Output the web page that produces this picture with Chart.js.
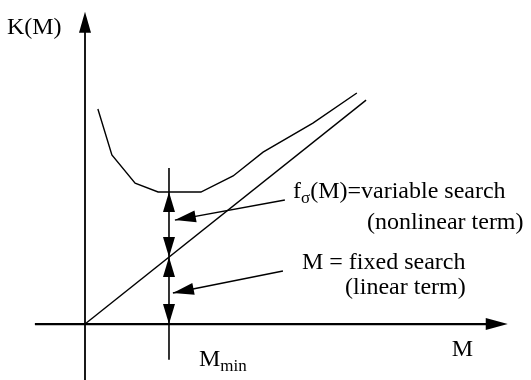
<!DOCTYPE html>
<html>
<head>
<meta charset="utf-8">
<script src="https://cdn.jsdelivr.net/npm/chart.js@4/dist/chart.umd.min.js"></script>
<style>
  body { margin: 0; background: #fff; }
  #wrap { width: 531px; height: 380px; }
</style>
</head>
<body>
<div id="wrap"><canvas id="chart"></canvas></div>
<script>
// cost curve K(M) (fixed + variable search)
const curveM = [0.46, 0.96, 1.79, 2.61, 4.14, 5.29, 6.36, 8.14, 9.71];
const curveK = [9.64, 7.58, 6.32, 5.92, 5.92, 6.64, 7.71, 9.01, 10.36];

// linear term K = M
const lineM = [0, 10.04];
const lineK = [0, 10.04];

const mMin = 3.0;
const kAtMin = 5.92;   // curve value at M_min
const linAtMin = 3.0;  // line value at M_min

// axis extents (data units)
const xAxisFrom = -1.79, xAxisTo = 15.1;
const yAxisFrom = -2.6, yAxisTo = 14.0;
const vLineTop = 7.0, vLineBottom = -1.6;

// pointer arrows [tailM, tailK, tipM, tipK]
const pointer1 = [7.14, 5.56, 3.21, 4.66];
const pointer2 = [7.07, 2.38, 3.14, 1.39];

const FONT = '"Liberation Serif", "Times New Roman", serif';

function arrowHead(ctx, tx, ty, fx, fy, len, half) {
  // tip at (tx,ty), pointing away from (fx,fy)
  const a = Math.atan2(ty - fy, tx - fx);
  ctx.beginPath();
  ctx.moveTo(tx, ty);
  ctx.lineTo(tx - len * Math.cos(a) + half * Math.sin(a), ty - len * Math.sin(a) - half * Math.cos(a));
  ctx.lineTo(tx - len * Math.cos(a) - half * Math.sin(a), ty - len * Math.sin(a) + half * Math.cos(a));
  ctx.closePath();
  ctx.fill();
}

function textSub(ctx, x, y, main, sub, rest, size) {
  ctx.font = size + 'px ' + FONT;
  ctx.fillText(main, x, y);
  let w = ctx.measureText(main).width;
  ctx.font = Math.round(size * 0.7) + 'px ' + FONT;
  ctx.fillText(sub, x + w, y + size * 0.28);
  w += ctx.measureText(sub).width;
  if (rest) {
    ctx.font = size + 'px ' + FONT;
    ctx.fillText(rest, x + w, y);
  }
}

const diagram = {
  id: 'diagram',
  afterDatasetsDraw(chart) {
    const ctx = chart.ctx;
    const xs = chart.scales.x, ys = chart.scales.y;
    const px = v => xs.getPixelForValue(v);
    const py = v => ys.getPixelForValue(v);
    ctx.save();
    ctx.strokeStyle = '#000';
    ctx.fillStyle = '#000';

    // x axis
    ctx.lineWidth = 2.2;
    ctx.beginPath();
    ctx.moveTo(px(xAxisFrom), py(0));
    ctx.lineTo(px(xAxisTo) - 10, py(0));
    ctx.stroke();
    arrowHead(ctx, px(xAxisTo), py(0), px(0), py(0), 22, 6);

    // y axis
    ctx.lineWidth = 1.8;
    ctx.beginPath();
    ctx.moveTo(px(0), py(yAxisFrom));
    ctx.lineTo(px(0), py(yAxisTo) + 10);
    ctx.stroke();
    arrowHead(ctx, px(0), py(yAxisTo), px(0), py(0), 21, 6);

    // M_min vertical line with double arrows
    ctx.lineWidth = 1.6;
    ctx.beginPath();
    ctx.moveTo(px(mMin), py(vLineTop));
    ctx.lineTo(px(mMin), py(vLineBottom));
    ctx.stroke();
    const x0 = px(mMin);
    arrowHead(ctx, x0, py(kAtMin), x0, py(linAtMin), 20, 6);
    arrowHead(ctx, x0, py(linAtMin), x0, py(kAtMin), 20, 6);
    arrowHead(ctx, x0, py(linAtMin), x0, py(0), 20, 6);
    arrowHead(ctx, x0, py(0), x0, py(linAtMin), 20, 6);

    // pointer arrows
    ctx.lineWidth = 1.4;
    [pointer1, pointer2].forEach(p => {
      ctx.beginPath();
      ctx.moveTo(px(p[0]), py(p[1]));
      ctx.lineTo(px(p[2]), py(p[3]));
      ctx.stroke();
      arrowHead(ctx, px(p[2]), py(p[3]), px(p[0]), py(p[1]), 21, 6);
    });

    // labels
    const size = 24;
    ctx.textBaseline = 'middle';
    ctx.textAlign = 'left';
    ctx.font = size + 'px ' + FONT;
    ctx.fillText('K(M)', px(-2.79), py(13.3));
    textSub(ctx, px(7.43), py(5.92), 'f', '\u03c3', '(M)=variable search', size);
    ctx.font = size + 'px ' + FONT;
    ctx.fillText('(nonlinear term)', px(10.07), py(4.53));
    ctx.fillText('M = fixed search', px(7.75), py(2.74));
    ctx.fillText('(linear term)', px(9.29), py(1.61));
    ctx.fillText('M', px(13.1), py(-1.17));
    textSub(ctx, px(4.07), py(-1.61), 'M', 'min', '', size);
    ctx.restore();
  }
};

new Chart(document.getElementById('chart'), {
  type: 'scatter',
  data: {
    datasets: [
      {
        label: 'K(M)',
        data: curveM.map((m, i) => ({ x: m, y: curveK[i] })),
        showLine: true,
        borderColor: '#000',
        borderWidth: 1.4,
        pointRadius: 0,
        tension: 0,
        clip: false
      },
      {
        label: 'M',
        data: lineM.map((m, i) => ({ x: m, y: lineK[i] })),
        showLine: true,
        borderColor: '#000',
        borderWidth: 1.4,
        pointRadius: 0,
        tension: 0,
        clip: false
      }
    ]
  },
  options: {
    responsive: true,
    maintainAspectRatio: false,
    animation: false,
    layout: { padding: 0 },
    plugins: { legend: { display: false }, tooltip: { enabled: false } },
    scales: {
      x: { type: 'linear', min: -3.036, max: 15.93, display: false },
      y: { type: 'linear', min: -2.51, max: 14.53, display: false }
    }
  },
  plugins: [diagram]
});
</script>
</body>
</html>
